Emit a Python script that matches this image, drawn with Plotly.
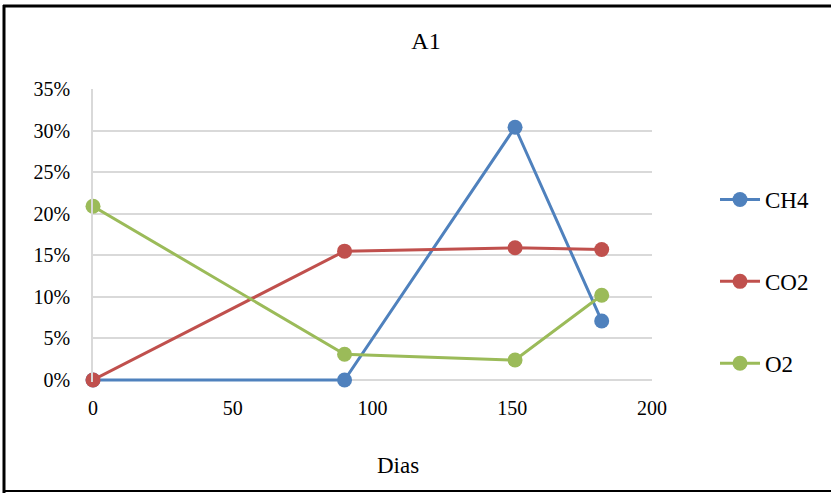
import plotly.graph_objects as go

dias = [0, 90, 151, 182]
ch4 = [0.0, 0.0, 0.304, 0.071]
co2 = [0.0, 0.155, 0.159, 0.157]
o2 = [0.209, 0.031, 0.024, 0.102]
series_names = ["CH4", "CO2", "O2"]
series_colors = ["#4F81BD", "#C0504D", "#9BBB59"]
y_ticks = [0, 0.05, 0.10, 0.15, 0.20, 0.25, 0.30, 0.35]
x_ticks = [0, 50, 100, 150, 200]

W, H = 831, 493
L, R, T, B = 93, 652, 89, 382
Y0 = 380  # pixel row of 0%
UNIT = (Y0 - T) / 0.35
YMIN = -(B - Y0) / UNIT

def px(x):
    return (x - L) / (R - L)

def py(y):
    return (B - y) / (B - T)

FONT = "Liberation Serif, Times New Roman, serif"

fig = go.Figure()
for i, (name, vals, col) in enumerate(zip(series_names, [ch4, co2, o2], series_colors)):
    fig.add_trace(go.Scatter(
        x=dias, y=vals, name=name, mode="lines+markers",
        line=dict(color=col, width=3),
        marker=dict(color=col, size=15),
        legendgroup=name, cliponaxis=False,
    ))

fig.update_layout(
    width=W, height=H,
    margin=dict(l=L, r=W - R, t=T, b=H - B, autoexpand=False),
    paper_bgcolor="white", plot_bgcolor="white",
    font=dict(family=FONT, size=20, color="black"),
    title=dict(text="A1", x=426 / W, xanchor="center", y=1 - 41 / H, yanchor="middle",
               font=dict(family=FONT, size=24, color="black")),
    showlegend=True,
    legend=dict(x=px(715), xanchor="left", y=py(178), yanchor="top",
                tracegroupgap=49, font=dict(family=FONT, size=23),
                bgcolor="rgba(0,0,0,0)", itemwidth=40),
    xaxis=dict(range=[0, 200], tickvals=x_ticks, showgrid=False, zeroline=False,
               showline=False, ticks="outside", ticklen=8, tickcolor="rgba(0,0,0,0)",
               tickfont=dict(family=FONT, size=20)),
    yaxis=dict(range=[YMIN, 0.35], tickvals=y_ticks, tickformat=".0%", showgrid=True,
               gridcolor="#D9D9D9", gridwidth=1.5, zeroline=False,
               showline=True, linecolor="#D9D9D9", linewidth=1.5,
               ticks="outside", ticklen=17, tickcolor="rgba(0,0,0,0)",
               tickfont=dict(family=FONT, size=20)),
    annotations=[dict(text="Dias", x=px(398), y=py(465), xref="paper", yref="paper",
                      showarrow=False, xanchor="center", yanchor="middle",
                      font=dict(family=FONT, size=23, color="black"))],
    shapes=[
        dict(type="line", xref="paper", yref="paper", x0=px(4), x1=px(4), y0=py(5), y1=py(493),
             line=dict(color="black", width=3)),
        dict(type="line", xref="paper", yref="paper", x0=px(3), x1=px(831), y0=py(6), y1=py(6),
             line=dict(color="black", width=3)),
        dict(type="line", xref="paper", yref="paper", x0=px(3), x1=px(831), y0=py(491), y1=py(491),
             line=dict(color="black", width=2)),
    ],
)

fig.write_html("out.html")
